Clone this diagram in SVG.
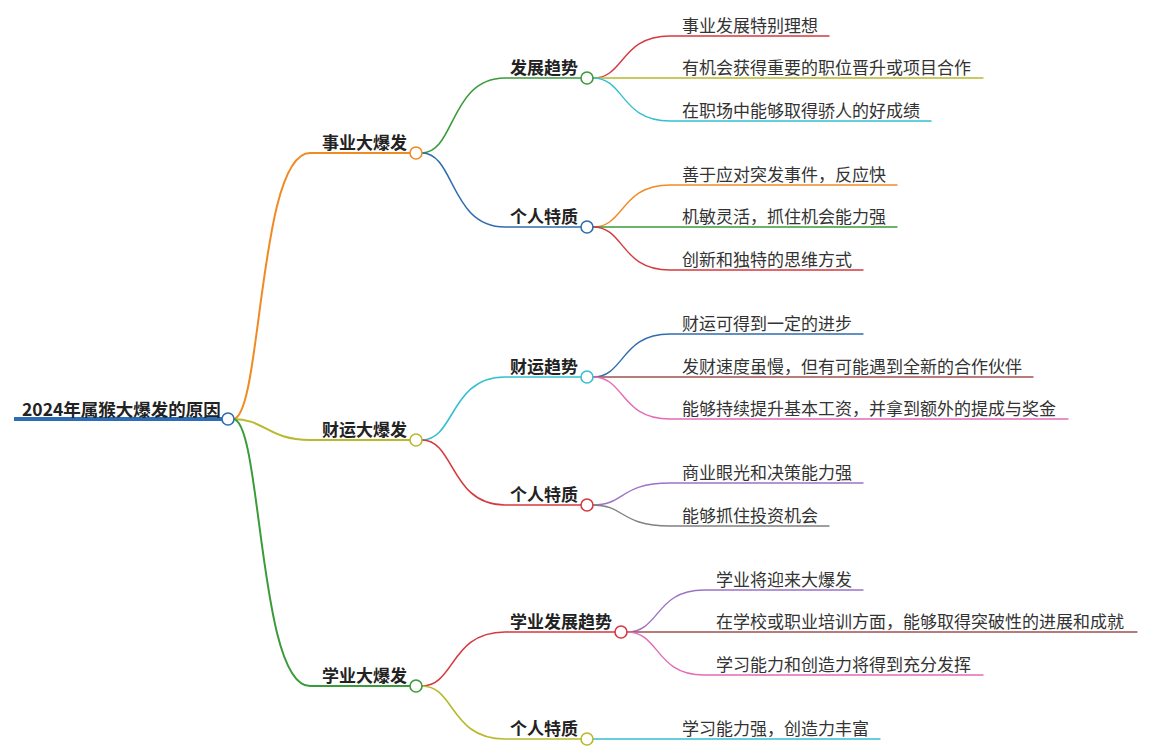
<svg xmlns="http://www.w3.org/2000/svg" width="1162" height="755" viewBox="0 0 1162 755">
<style>
text{font-family:"Noto Sans CJK SC","Noto Sans",sans-serif;}
.root{font-size:17.5px;font-weight:bold;fill:#222;}
.lb{font-size:17px;font-weight:bold;fill:#222;}
.lf{font-size:17px;fill:#333;}
.c{fill:none;stroke-linecap:round;}
.c1{stroke-width:2;}
.c2{stroke-width:1.6;}
.c3{stroke-width:1.4;}
.dot{fill:#fff;stroke-width:1.6;}
</style>
<rect width="1162" height="755" fill="#fff"/>
<g id="connectors">
  <path d="M14 419 H224" fill="none" stroke="#2d6db5" stroke-width="4"/>
  <path class="c c1" stroke="#f08a24" d="M233 419 C262 419 258 153 310 153 H410"/>
  <path class="c c1" stroke="#b8b92c" d="M233 419 C265 419 268 440 310 440 H410"/>
  <path class="c c1" stroke="#3a9b3a" d="M233 419 C262 419 258 686 310 686 H410"/>
  <path class="c c2" stroke="#3a9b3a" d="M422 153 C455 153 450 78 505 78 H581"/>
  <path class="c c2" stroke="#2f6cb0" d="M422 153 C455 153 450 227 505 227 H581"/>
  <path class="c c2" stroke="#35c0d0" d="M422 440 C455 440 450 377 505 377 H581"/>
  <path class="c c2" stroke="#d6393f" d="M422 440 C455 440 450 505 505 505 H581"/>
  <path class="c c2" stroke="#d6393f" d="M422 686 C455 686 450 632 505 632 H615"/>
  <path class="c c2" stroke="#b8b92c" d="M422 686 C455 686 450 739 505 739 H581"/>
  <path class="c c3" stroke="#d6393f" d="M593 78 C625 78 620 36 670 36 H829"/>
  <path class="c c3" stroke="#b8b92c" d="M593 78 H983"/>
  <path class="c c3" stroke="#35c0d0" d="M593 78 C625 78 620 121 670 121 H931"/>
  <path class="c c3" stroke="#f08a24" d="M593 227 C625 227 620 185 670 185 H897"/>
  <path class="c c3" stroke="#3a9b3a" d="M593 227 H897"/>
  <path class="c c3" stroke="#d6393f" d="M593 227 C625 227 620 270 670 270 H863"/>
  <path class="c c3" stroke="#2f6cb0" d="M593 377 C625 377 620 334 670 334 H863"/>
  <path class="c c3" stroke="#a0504f" d="M593 377 H1033"/>
  <path class="c c3" stroke="#e46bb5" d="M593 377 C625 377 620 419 670 419 H1068"/>
  <path class="c c3" stroke="#9b72c8" d="M593 505 C625 505 620 483 670 483 H863"/>
  <path class="c c3" stroke="#808080" d="M593 505 C625 505 620 526 670 526 H829"/>
  <path class="c c3" stroke="#9b72c8" d="M627 632 C660 632 655 590 704 590 H863"/>
  <path class="c c3" stroke="#a0504f" d="M627 632 H1137"/>
  <path class="c c3" stroke="#e46bb5" d="M627 632 C660 632 655 675 704 675 H983"/>
  <path class="c c3" stroke="#35c0d0" d="M593 739 H880"/>
</g>
<g id="root"><text class="root" x="22" y="415.5">2024年属猴大爆发的原因</text><circle class="dot" cx="228" cy="419" r="6" stroke="#2d6db5"/></g>
<g id="n-career"><text class="lb" x="322" y="149">事业大爆发</text><circle class="dot" cx="416" cy="153" r="6" stroke="#f08a24"/></g>
<g id="n-wealth"><text class="lb" x="322" y="436">财运大爆发</text><circle class="dot" cx="416" cy="440" r="6" stroke="#b8b92c"/></g>
<g id="n-study"><text class="lb" x="322" y="682">学业大爆发</text><circle class="dot" cx="416" cy="686" r="6" stroke="#3a9b3a"/></g>
<g id="n-career-trend"><text class="lb" x="510" y="74">发展趋势</text><circle class="dot" cx="587" cy="78" r="6" stroke="#3a9b3a"/></g>
<g id="n-career-trait"><text class="lb" x="510" y="223">个人特质</text><circle class="dot" cx="587" cy="227" r="6" stroke="#2f6cb0"/></g>
<g id="n-wealth-trend"><text class="lb" x="510" y="373">财运趋势</text><circle class="dot" cx="587" cy="377" r="6" stroke="#35c0d0"/></g>
<g id="n-wealth-trait"><text class="lb" x="510" y="501">个人特质</text><circle class="dot" cx="587" cy="505" r="6" stroke="#d6393f"/></g>
<g id="n-study-trend"><text class="lb" x="510" y="628">学业发展趋势</text><circle class="dot" cx="621" cy="632" r="6" stroke="#d6393f"/></g>
<g id="n-study-trait"><text class="lb" x="510" y="735">个人特质</text><circle class="dot" cx="587" cy="739" r="6" stroke="#b8b92c"/></g>
<g id="l1"><text class="lf" x="682" y="31.5">事业发展特别理想</text></g>
<g id="l2"><text class="lf" x="682" y="73.5">有机会获得重要的职位晋升或项目合作</text></g>
<g id="l3"><text class="lf" x="682" y="116.5">在职场中能够取得骄人的好成绩</text></g>
<g id="l4"><text class="lf" x="682" y="180.5">善于应对突发事件，反应快</text></g>
<g id="l5"><text class="lf" x="682" y="222.5">机敏灵活，抓住机会能力强</text></g>
<g id="l6"><text class="lf" x="682" y="265.5">创新和独特的思维方式</text></g>
<g id="l7"><text class="lf" x="682" y="329.5">财运可得到一定的进步</text></g>
<g id="l8"><text class="lf" x="682" y="372.5">发财速度虽慢，但有可能遇到全新的合作伙伴</text></g>
<g id="l9"><text class="lf" x="682" y="414.5">能够持续提升基本工资，并拿到额外的提成与奖金</text></g>
<g id="l10"><text class="lf" x="682" y="478.5">商业眼光和决策能力强</text></g>
<g id="l11"><text class="lf" x="682" y="521.5">能够抓住投资机会</text></g>
<g id="l12"><text class="lf" x="716" y="585.5">学业将迎来大爆发</text></g>
<g id="l13"><text class="lf" x="716" y="627.5">在学校或职业培训方面，能够取得突破性的进展和成就</text></g>
<g id="l14"><text class="lf" x="716" y="670.5">学习能力和创造力将得到充分发挥</text></g>
<g id="l15"><text class="lf" x="682" y="734.5">学习能力强，创造力丰富</text></g>
</svg>
